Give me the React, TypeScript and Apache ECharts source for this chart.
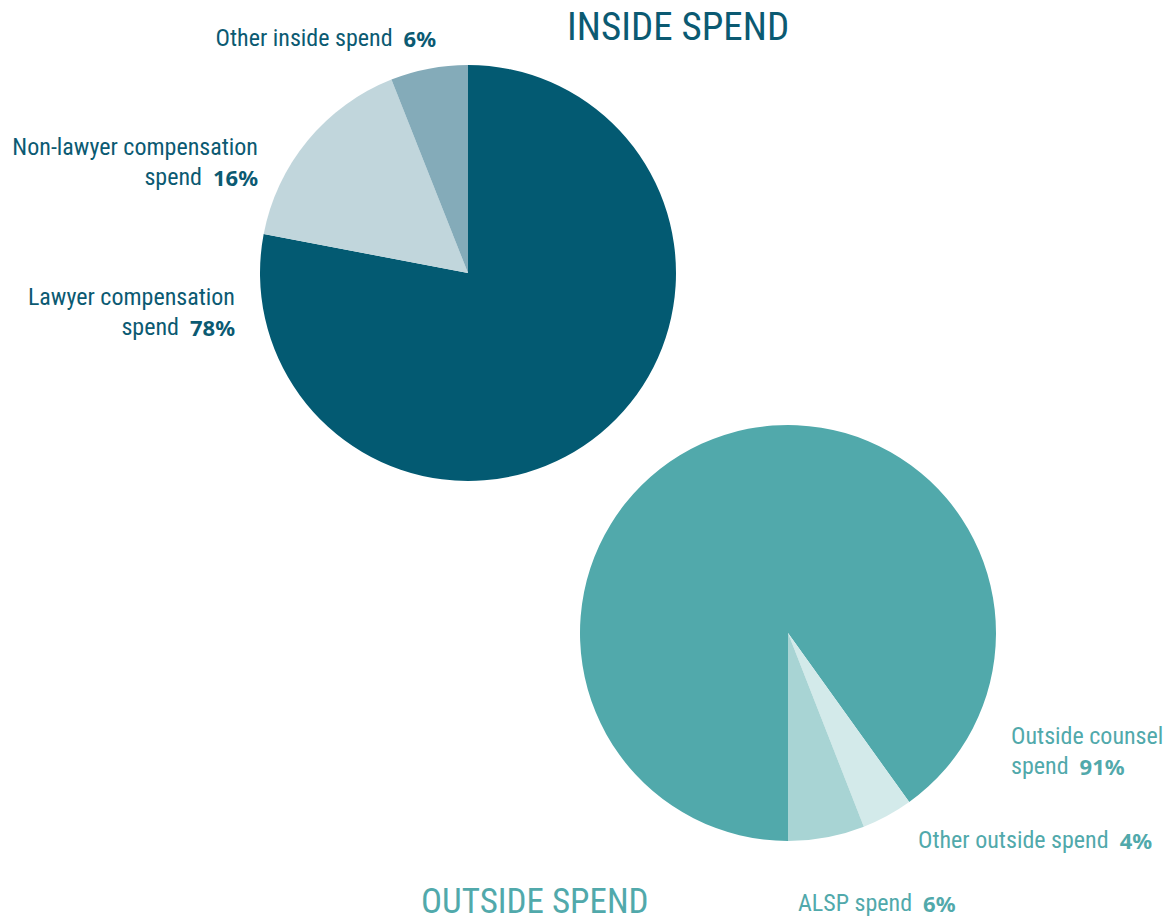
import React, { useEffect, useRef } from "react";
import * as echarts from "echarts";

// ---- data ----
const insideNames = ["Lawyer compensation\nspend", "Non-lawyer compensation\nspend", "Other inside spend"];
const insideValues = [78, 16, 6];
const outsideNames = ["Outside counsel\nspend", "Other outside spend", "ALSP spend"];
const outsideValues = [91, 4, 6];
const titles = ["INSIDE SPEND", "OUTSIDE SPEND"];

// ---- styles ----
const insideColors = ["#035a72", "#c1d6dc", "#84abb9"];
const outsideColors = ["#51a9ab", "#d3eaea", "#a8d4d4"];
const insideText = "#0b5a72";
const outsideText = "#51a9ab";
const condensed = '"Roboto Condensed", "Liberation Sans Narrow", "DejaVu Sans Condensed", Roboto, sans-serif';
const boldFont = '"Noto Sans", "Open Sans", sans-serif';

const insideLabelPos = [
  { x: 235, y: 312 },
  { x: 258, y: 162 },
  { x: 436, y: 38 },
];
const outsideLabelPos = [
  { x: 1011, y: 751 },
  { x: 918, y: 840 },
  { x: 798, y: 903 },
];

function makeLabel(color: string, align: "left" | "right") {
  return {
    show: true,
    align,
    overflow: "none",
    formatter: (p: any) => {
      const lines = String(p.name).split("\n");
      const last = lines.pop();
      const head = lines.map((l) => `{n|${l}}`).join("\n");
      return (head ? head + "\n" : "") + `{n|${last}  }{v|${p.value}%}`;
    },
    rich: {
      n: { fontFamily: condensed, fontSize: 24, color, lineHeight: 30, align },
      v: { fontFamily: boldFont, fontSize: 22, fontWeight: "bold", color, lineHeight: 30, align },
    },
  };
}

export default function App() {
  const ref = useRef<HTMLDivElement>(null);
  useEffect(() => {
    if (!ref.current) return;
    const chart = echarts.init(ref.current, undefined, { renderer: "svg" });
    chart.setOption({
      animation: false,
      title: [
        {
          text: titles[0],
          left: 567,
          top: 7,
          padding: 0,
          textStyle: { fontFamily: condensed, fontSize: 39, fontWeight: "normal", color: insideText },
        },
        {
          text: titles[1],
          left: 421,
          top: 884,
          padding: 0,
          textStyle: { fontFamily: condensed, fontSize: 35, fontWeight: "normal", color: outsideText },
        },
      ],
      series: [
        {
          type: "pie",
          center: [468, 273],
          radius: 208,
          startAngle: 90,
          clockwise: true,
          silent: true,
          labelLine: { show: false },
          label: makeLabel(insideText, "right"),
          labelLayout: (p: any) => ({
            x: insideLabelPos[p.dataIndex].x,
            y: insideLabelPos[p.dataIndex].y,
            align: "right",
            verticalAlign: "middle",
          }),
          data: insideNames.map((n, i) => ({
            name: n,
            value: insideValues[i],
            itemStyle: { color: insideColors[i] },
          })),
        },
        {
          type: "pie",
          center: [788, 633],
          radius: 208,
          startAngle: 270,
          clockwise: true,
          silent: true,
          labelLine: { show: false },
          label: makeLabel(outsideText, "left"),
          labelLayout: (p: any) => ({
            x: outsideLabelPos[p.dataIndex].x,
            y: outsideLabelPos[p.dataIndex].y,
            align: "left",
            verticalAlign: "middle",
          }),
          data: outsideNames.map((n, i) => ({
            name: n,
            value: outsideValues[i],
            itemStyle: { color: outsideColors[i] },
          })),
        },
      ],
    });
    return () => chart.dispose();
  }, []);
  return (
    <div
      ref={ref}
      style={{ position: "absolute", left: 0, top: 0, width: 1168, height: 923, background: "#fff" }}
    />
  );
}
